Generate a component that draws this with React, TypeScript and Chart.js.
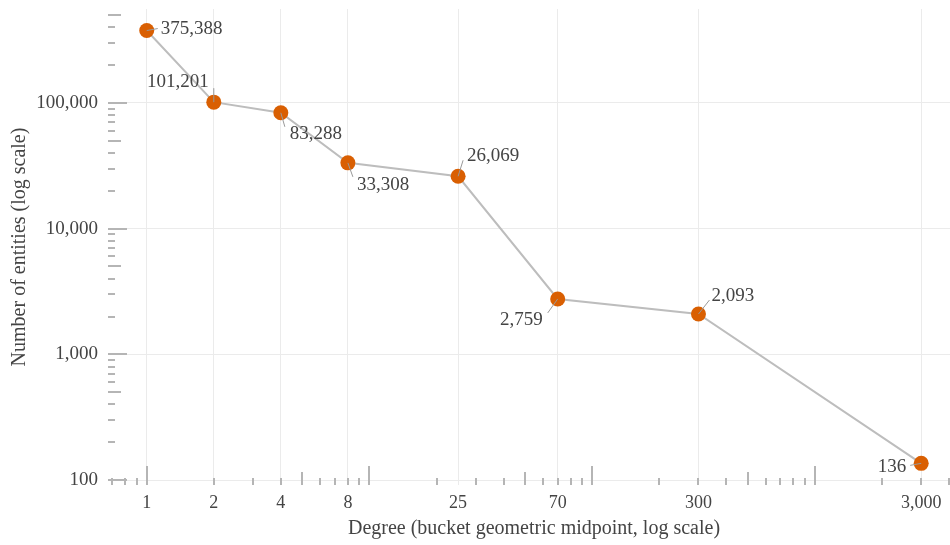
import React, { useEffect, useRef } from "react";
import { Chart, registerables } from "chart.js";

Chart.register(...registerables);

// ---- data ----
const degrees = [1, 2, 4, 8, 25, 70, 300, 3000];
const counts = [375388, 101201, 83288, 33308, 26069, 2759, 2093, 136];
const xTickValues = [1, 2, 4, 8, 25, 70, 300, 3000];
const yTickValues = [100, 1000, 10000, 100000];
const xTitle = "Degree (bucket geometric midpoint, log scale)";
const yTitle = "Number of entities (log scale)";

// ---- label placement (pixel offsets from the point centre; style only) ----
const labelPlacement = [
  { dx: 14, dy: -2, lx: 11, ly: -2, align: "left" },
  { dx: -5, dy: -20, lx: 0, ly: -14, align: "right" },
  { dx: 9, dy: 21, lx: 4, ly: 14, align: "left" },
  { dx: 9, dy: 22, lx: 5, ly: 14, align: "left" },
  { dx: 9, dy: -20, lx: 5, ly: -16, align: "left" },
  { dx: -15, dy: 21, lx: -10, ly: 14, align: "right" },
  { dx: 13, dy: -18, lx: 11, ly: -14, align: "left" },
  { dx: -15, dy: 4, lx: -11, ly: 2, align: "right" },
];

const FONT = "'Liberation Serif', serif";
const TEXT = "#444444";
const fmt = (v: number) => Number(v).toLocaleString("en-US");

const minorValues = (min: number, max: number) => {
  const out: { v: number; m: number }[] = [];
  const lo = Math.floor(Math.log10(min));
  const hi = Math.ceil(Math.log10(max));
  for (let d = lo; d <= hi; d++) {
    for (let m = 1; m <= 9; m++) {
      const v = m * Math.pow(10, d);
      if (v >= min && v <= max) out.push({ v, m });
    }
  }
  return out;
};

const rugPlugin = {
  id: "rugAndLabels",
  beforeDatasetsDraw(chart: any) {
    const { ctx, chartArea: a, scales } = chart;
    const x = scales.x;
    const y = scales.y;
    const len = (m: number) => (m === 1 ? 19 : m === 5 ? 13 : 7);
    ctx.save();
    ctx.strokeStyle = "#b5b5b5";
    ctx.lineWidth = 2;
    ctx.lineCap = "butt";
    for (const { v, m } of minorValues(x.min, x.max)) {
      const px = Math.round(x.getPixelForValue(v));
      ctx.beginPath();
      ctx.moveTo(px, a.bottom);
      ctx.lineTo(px, a.bottom - len(m));
      ctx.stroke();
    }
    for (const { v, m } of minorValues(y.min, y.max)) {
      const py = Math.round(y.getPixelForValue(v));
      ctx.beginPath();
      ctx.moveTo(a.left, py);
      ctx.lineTo(a.left + len(m), py);
      ctx.stroke();
    }
    ctx.restore();
  },
  afterDatasetsDraw(chart: any) {
    const { ctx } = chart;
    const meta = chart.getDatasetMeta(0);
    ctx.save();
    ctx.strokeStyle = "#999999";
    ctx.lineWidth = 1;
    meta.data.forEach((pt: any, i: number) => {
      const p = labelPlacement[i];
      ctx.beginPath();
      ctx.moveTo(pt.x, pt.y);
      ctx.lineTo(pt.x + p.lx, pt.y + p.ly);
      ctx.stroke();
    });
    ctx.font = `19px ${FONT}`;
    ctx.fillStyle = TEXT;
    ctx.textBaseline = "middle";
    meta.data.forEach((pt: any, i: number) => {
      const p = labelPlacement[i];
      ctx.textAlign = p.align;
      ctx.fillText(fmt(counts[i]), pt.x + p.dx, pt.y + p.dy);
    });
    ctx.restore();
  },
};

export default function App() {
  const ref = useRef<HTMLCanvasElement | null>(null);

  useEffect(() => {
    document.body.style.margin = "0";
    document.body.style.overflow = "hidden";
    const canvas = ref.current;
    if (!canvas) return;
    const chart = new Chart(canvas, {
      type: "line",
      data: {
        datasets: [
          {
            data: degrees.map((d, i) => ({ x: d, y: counts[i] })),
            borderColor: "#bdbdbd",
            borderWidth: 2,
            pointRadius: 7.5,
            pointHoverRadius: 7.5,
            pointBackgroundColor: "#d95f02",
            pointBorderWidth: 0,
            pointBorderColor: "#d95f02",
            tension: 0,
            clip: false,
          },
        ],
      },
      options: {
        animation: false,
        responsive: false,
        devicePixelRatio: 1,
        layout: { autoPadding: false, padding: { top: 9, left: 0, right: 0, bottom: 0 } },
        plugins: {
          legend: { display: false },
          tooltip: { enabled: false },
        },
        scales: {
          x: {
            type: "logarithmic",
            min: 0.67,
            max: 4480,
            afterBuildTicks: (s: any) => {
              s.ticks = xTickValues.map((value) => ({ value }));
            },
            afterFit: (s: any) => {
              s.height = 60;
              s.paddingLeft = 0;
              s.paddingRight = 0;
            },
            ticks: {
              autoSkip: false,
              maxRotation: 0,
              padding: 7,
              color: TEXT,
              font: { family: FONT, size: 18 },
              callback: (v: any) => fmt(v),
            },
            grid: { color: "#ebebeb", lineWidth: 1, drawTicks: false },
            border: { display: false },
            title: {
              display: true,
              text: xTitle,
              color: TEXT,
              font: { family: FONT, size: 20 },
              padding: { top: 0, bottom: 4 },
            },
          },
          y: {
            type: "logarithmic",
            min: 91.5,
            max: 557000,
            afterBuildTicks: (s: any) => {
              s.ticks = yTickValues.map((value) => ({ value }));
            },
            afterFit: (s: any) => {
              s.width = 108;
              s.paddingTop = 0;
              s.paddingBottom = 0;
            },
            ticks: {
              autoSkip: false,
              padding: 10,
              color: TEXT,
              font: { family: FONT, size: 19 },
              callback: (v: any) => fmt(v),
            },
            grid: { color: "#ebebeb", lineWidth: 1, drawTicks: false },
            border: { display: false },
            title: {
              display: true,
              text: yTitle,
              color: TEXT,
              font: { family: FONT, size: 20 },
              padding: { top: 8, bottom: 0 },
            },
          },
        },
      },
      plugins: [rugPlugin],
    } as any);
    return () => chart.destroy();
  }, []);

  return (
    <div style={{ width: 950, height: 545, overflow: "hidden", position: "relative" }}>
      <canvas ref={ref} width={960} height={545} style={{ display: "block", width: 960, height: 545 }} />
    </div>
  );
}
